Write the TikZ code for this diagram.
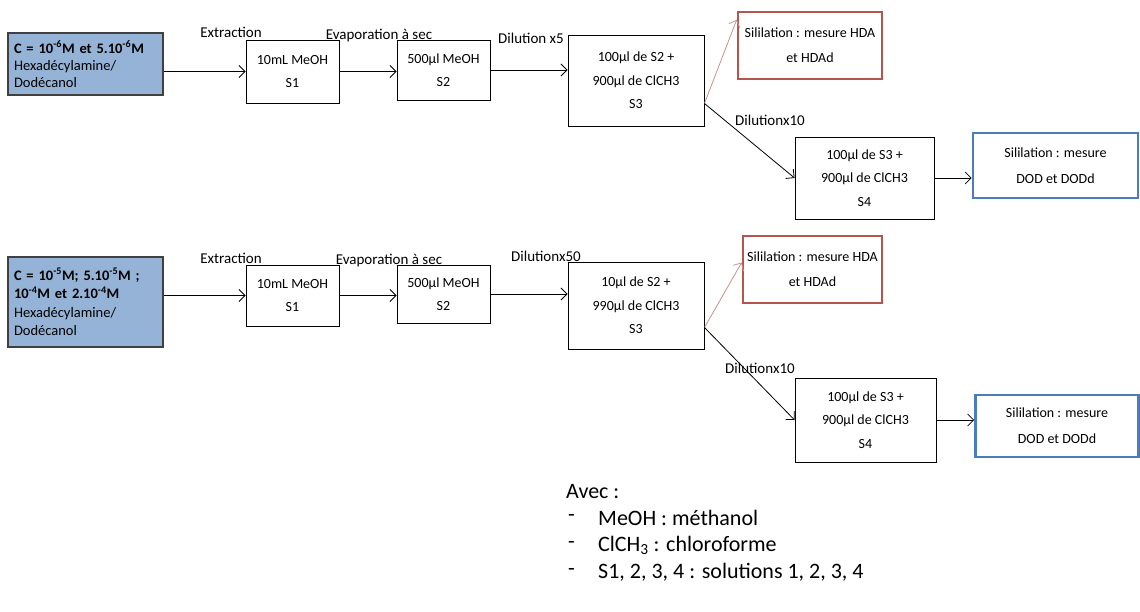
\documentclass[tikz,border=0pt]{standalone}
\usepackage{fontspec}
\setmainfont{Carlito}
\usetikzlibrary{arrows.meta,calc}
\definecolor{bluefill}{HTML}{95B3D7}
\definecolor{redb}{HTML}{B85450}
\definecolor{blueb}{HTML}{4A7EBB}
\definecolor{redarrow}{HTML}{C9918F}
\tikzset{
  x=1pt, y=-1pt,
  box/.style={draw=black, line width=0.9pt, align=center, inner sep=0pt,
    font=\fontsize{14}{23.5}\selectfont},
  src/.style={draw=black!75, fill=bluefill, line width=1.2pt, align=left,
    inner xsep=6pt, inner ysep=0pt, text width=143pt, minimum width=155pt},
  redbox/.style={draw=redb, line width=2.6pt, align=center, inner sep=0pt,
    font=\fontsize{14}{25}\selectfont},
  bluebox/.style={draw=blueb, line width=2.6pt, align=center, inner sep=0pt,
    font=\fontsize{14}{26}\selectfont},
  arr/.style={-{Straight Barb[length=6pt,width=12pt]}, line width=0.8pt},
  redarr/.style={arr, draw=redarrow},
  lab/.style={inner sep=0pt, font=\fontsize{15}{17}\selectfont},
  leg/.style={inner sep=0pt, anchor=west, font=\fontsize{22}{25}\selectfont},
}
\begin{document}
\begin{tikzpicture}
\useasboundingbox (0,0) rectangle (1140,612);

% ---------------- top row ----------------
\node[src, minimum height=62pt, font=\fontsize{14.5}{17}\selectfont] (a) at (85.5,64)
  {\textbf{C = 10\textsuperscript{-6}M et 5.10\textsuperscript{-6}M}\\Hexadécylamine/\\Dodécanol};
\node[box, minimum width=93pt, minimum height=63pt] (s1) at (292.5,71.5) {10mL MeOH\\S1};
\node[box, minimum width=93pt, minimum height=60pt] (s2) at (443.5,70) {500µl MeOH\\S2};
\node[box, minimum width=136pt, minimum height=91pt] (s3) at (636,80.5)
  {100µl de S2 +\\900µl de ClCH3\\S3};
\node[redbox, minimum width=144pt, minimum height=67pt] (r1) at (810,45.5)
  {Sililation : mesure HDA\\et HDAd};
\node[box, minimum width=139pt, minimum height=82pt] (s4) at (864.5,178)
  {100µl de S3 +\\900µl de ClCH3\\S4};
\node[bluebox, minimum width=165pt, minimum height=65pt] (b1) at (1055.5,165.5)
  {Sililation : mesure\\DOD et DODd};

\node[lab] (l1) at (231,32) {Extraction};
\node[lab] (l2) at (379,36) {Evaporation à sec};
\node[lab] (l3) at (531,38) {Dilution x5};
\node[lab] (l4) at (770,120) {Dilutionx10};

\coordinate (o3) at ($(s3.south east)!0.25!(s3.north east)$);
\coordinate (t1) at ($(r1.north west)!0.13!(r1.south west)$);
\draw[arr] (a.east |- s1.west) -- (s1.west);
\draw[arr] (s1.east) -- (s1.east -| s2.west);
\draw[arr] (s2.east) -- (s2.east -| s3.west);
\draw[redarr] (o3) -- (t1);
\draw[arr] (o3) -- (s4.west);
\draw[arr] (s4.east) -- (s4.east -| b1.west);

% ---------------- bottom row ----------------
\node[src, minimum height=90pt, font=\fontsize{14.5}{18.5}\selectfont] (a2) at (85.5,302)
  {\textbf{C = 10\textsuperscript{-5}M; 5.10\textsuperscript{-5}M ;}\\\textbf{10\textsuperscript{-4}M et 2.10\textsuperscript{-4}M}\\Hexadécylamine/\\Dodécanol};
\node[box, minimum width=93pt, minimum height=61pt] (t1b) at (292.5,295.5) {10mL MeOH\\S1};
\node[box, minimum width=93pt, minimum height=58pt] (t2b) at (443.5,294) {500µl MeOH\\S2};
\node[box, minimum width=136pt, minimum height=87pt] (t3b) at (636,305.5)
  {10µl de S2 +\\990µl de ClCH3\\S3};
\node[redbox, minimum width=139pt, minimum height=67pt] (r2) at (812.5,269.5)
  {Sililation : mesure HDA\\et HDAd};
\node[box, minimum width=141pt, minimum height=84pt] (t4b) at (865.5,420)
  {100µl de S3 +\\900µl de ClCH3\\S4};
\node[bluebox, minimum width=163pt, minimum height=62pt] (b2) at (1057,426)
  {Sililation : mesure\\DOD et DODd};

\node[lab] (m1) at (231,258) {Extraction};
\node[lab] (m2) at (389,261) {Evaporation à sec};
\node[lab] (m3) at (546,256) {Dilutionx50};
\node[lab] (m4) at (760,368) {Dilutionx10};

\coordinate (p3) at ($(t3b.south east)!0.25!(t3b.north east)$);
\coordinate (q2) at ($(r2.north west)!0.4!(r2.south west)$);
\draw[arr] (a2.east |- t1b.west) -- (t1b.west);
\draw[arr] (t1b.east) -- (t1b.east -| t2b.west);
\draw[arr] (t2b.east) -- (t2b.east -| t3b.west);
\draw[redarr] (p3) -- (q2);
\draw[arr] (p3) -- (t4b.west);
\draw[arr] (t4b.east) -- (t4b.east -| b2.west);

% ---------------- legend ----------------
\node[leg] (avec) at (566,492) {Avec :};
\node[leg] (d1) at (568,518) {-};
\node[leg] (e1) at (598,518) {MeOH : méthanol};
\node[leg] (d2) at (568,545) {-};
\node[leg] (e2) at (598,545) {ClCH\textsubscript{3} : chloroforme};
\node[leg] (d3) at (568,572) {-};
\node[leg] (e3) at (598,572) {S1, 2, 3, 4 : solutions 1, 2, 3, 4};
\end{tikzpicture}
\end{document}
